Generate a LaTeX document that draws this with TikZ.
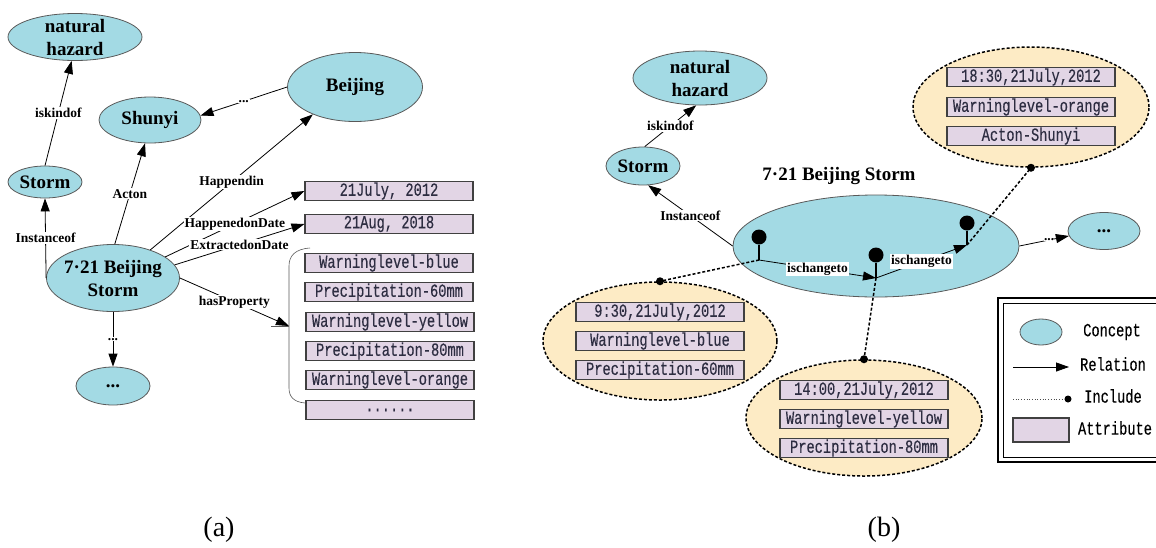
\documentclass[tikz,border=0pt]{standalone}
\usepackage{fontspec}
\setmainfont{Liberation Serif}
\newfontfamily\boxfont[FakeStretch=0.74,FakeBold=0.3]{Liberation Mono}
\usetikzlibrary{shapes.geometric,arrows.meta}
\definecolor{conceptc}{RGB}{163,218,228}
\definecolor{attrc}{RGB}{226,213,229}
\definecolor{inclc}{RGB}{253,235,197}
\definecolor{boxtext}{RGB}{45,45,65}
\begin{document}
\begin{tikzpicture}[x=1pt,y=-1pt,
 concept/.style={ellipse,draw=black!65,line width=0.8pt,fill=conceptc,inner sep=0pt},
 ctext/.style={font=\fontsize{19}{23}\selectfont\bfseries,align=center,inner sep=0pt},
 attrbox/.style={draw=black!75,line width=1.1pt,fill=attrc,minimum width=168pt,minimum height=19pt,inner sep=0pt,font=\fontsize{18.5}{19}\selectfont\boxfont,text=boxtext},
 rel/.style={draw=black,line width=0.8pt,-{Triangle[length=13pt,width=9pt]}},
 lbl/.style={fill=white,inner sep=1pt,font=\fontsize{13.5}{14}\selectfont\bfseries},
 inclell/.style={ellipse,draw=black,line width=1.5pt,dash pattern=on 3pt off 2pt,fill=inclc,inner sep=0pt},
 incline/.style={draw=black,line width=1.5pt,dash pattern=on 3pt off 2pt},
 dotmark/.style={circle,fill=black,inner sep=0pt,minimum size=8pt},
 pinhead/.style={circle,fill=black,inner sep=0pt,minimum size=15pt},
 legtext/.style={font=\fontsize{18.5}{19}\selectfont\boxfont,inner sep=0pt},
 caption/.style={font=\fontsize{28}{30}\selectfont,inner sep=0pt}
]
\useasboundingbox (0,0) rectangle (1156,547);

% ---------------- (a) ----------------
\node[concept,minimum width=134pt,minimum height=47pt,label={[ctext]center:{natural\\hazard}}] (nha) at (75,37) {};
\node[concept,minimum width=74pt,minimum height=32pt,label={[ctext]center:Storm}] (storma) at (45,182) {};
\node[concept,minimum width=102pt,minimum height=46pt,label={[ctext]center:Shunyi}] (shunyi) at (150,120) {};
\node[concept,minimum width=135pt,minimum height=69pt,label={[ctext]center:Beijing}] (beijing) at (355,87) {};
\node[concept,minimum width=133pt,minimum height=67pt,label={[ctext]center:{7·21 Beijing\\Storm}}] (n721a) at (113,278) {};
\node[concept,minimum width=74pt,minimum height=38pt,label={[ctext]center:...}] (dotsa) at (113,386) {};

\node[attrbox] (b1) at (389,191) {21July, 2012};
\node[attrbox] (b2) at (389,224) {21Aug, 2018};
\node[attrbox] (b3) at (389,263) {Warninglevel-blue};
\node[attrbox] (b4) at (389,292) {Precipitation-60mm};
\node[attrbox] (b5) at (390,322) {Warninglevel-yellow};
\node[attrbox] (b6) at (390,351) {Precipitation-80mm};
\node[attrbox] (b7) at (390,380) {Warninglevel-orange};
\node[attrbox] (b8) at (390,410) {......};

\draw[line width=0.6pt,black!65] (310,248) .. controls (295,249) and (289,256) .. (289,266) -- (289,388) .. controls (289,397) and (294,402) .. (305,403);
\coordinate (brace) at (289,326);
\coordinate (bracetail) at (271,326);
\draw[line width=0.6pt,black!65] (bracetail) -- (brace);

\draw[rel] (storma.north) -- node[lbl]{iskindof} (nha.262);
\draw[rel] (n721a.west) -- node[lbl]{Instanceof} (storma.south);
\draw[rel] (n721a.87) -- node[lbl]{Acton} (shunyi.258);
\draw[rel] (beijing.west) -- node[lbl]{...} (shunyi.5);
\draw[rel] (n721a.37) -- node[lbl]{Happendin} (beijing.213);
\draw[rel] (n721a.22) -- node[lbl]{HappenedonDate} (b1.west);
\draw[rel] (n721a.12) -- node[lbl]{ExtractedonDate} (b2.west);
\draw[rel] (n721a.east) -- node[lbl]{hasProperty} (brace);
\draw[rel] (n721a.south) -- node[lbl]{...} (dotsa.north);

\node[caption] (capa) at (219,530) {(a)};

% ---------------- (b) ----------------
\node[concept,minimum width=134pt,minimum height=54pt,label={[ctext]center:{natural\\hazard}}] (nhb) at (700,78) {};
\node[concept,minimum width=74pt,minimum height=38pt,label={[ctext]center:Storm}] (stormb) at (643,166) {};
\node[concept,minimum width=286pt,minimum height=102pt] (big) at (876,246) {};
\node[ctext] (bigtitle) at (839,176) {7·21 Beijing Storm};
\node[concept,minimum width=72pt,minimum height=37pt,label={[ctext]center:...}] (dotsb) at (1104,231) {};

\node[inclell,minimum width=234pt,minimum height=118pt] (inc1) at (660,341) {};
\node[inclell,minimum width=236pt,minimum height=116pt] (inc2) at (864,418) {};
\node[inclell,minimum width=236pt,minimum height=120pt] (inc3) at (1031,107) {};

\node[attrbox] (c1) at (660,312) {9:30,21July,2012};
\node[attrbox] (c2) at (660,341) {Warninglevel-blue};
\node[attrbox] (c3) at (660,370) {Precipitation-60mm};
\node[attrbox] (d1) at (864,390) {14:00,21July,2012};
\node[attrbox] (d2) at (864,419) {Warninglevel-yellow};
\node[attrbox] (d3) at (864,448) {Precipitation-80mm};
\node[attrbox] (e1) at (1031,77) {18:30,21July,2012};
\node[attrbox] (e2) at (1031,107) {Warninglevel-orange};
\node[attrbox] (e3) at (1031,136) {Acton-Shunyi};

\draw[rel] (stormb.85) -- node[lbl]{iskindof} (nhb.262);
\draw[rel] (big.west) -- node[lbl]{Instanceof} (stormb.285);
\draw[rel] (big.east) -- node[lbl,pos=0.6,inner sep=0pt]{...} (dotsb.188);

\coordinate (p1) at (759,260);
\coordinate (p2) at (876,278);
\coordinate (p3) at (967,245);
\node[pinhead] (h1) at (759,237) {};
\node[pinhead] (h2) at (876,255) {};
\node[pinhead] (h3) at (967,223) {};
\draw[line width=1.4pt] (h1) -- (p1);
\draw[line width=1.4pt] (h2) -- (p2);
\draw[line width=1.4pt] (h3) -- (p3);

\draw[incline] (p1) -- (inc1.north);
\draw[incline] (p2) -- (inc2.north);
\draw[incline] (p3) -- (inc3.south);
\node[dotmark] (m1) at (inc1.north) {};
\node[dotmark] (m2) at (inc2.north) {};
\node[dotmark] (m3) at (inc3.south) {};

\draw[rel] (p1) -- node[lbl]{ischangeto} (p2);
\draw[rel] (p2) -- node[lbl]{ischangeto} (p3);

% legend
\draw[line width=1.6pt] (998,298) rectangle (1175,462);
\draw[line width=0.8pt] (1003,303) rectangle (1175,457);
\node[concept,minimum width=42pt,minimum height=26pt] (lgc) at (1041,332) {};
\node[legtext] (lgct) at (1112,332) {Concept};
\coordinate (lr1) at (1013,367);
\coordinate (lr2) at (1069,367);
\draw[rel] (lr1) -- (lr2);
\node[legtext] (lgrt) at (1113,364) {Relation};
\coordinate (li1) at (1013,399);
\node[circle,fill=black,inner sep=0pt,minimum size=7pt] (li2) at (1068,399) {};
\draw[line width=0.7pt,black!70,dotted] (li1) -- (li2);
\node[legtext] (lgit) at (1113,396) {Include};
\node[draw=black!75,line width=1.1pt,fill=attrc,minimum width=56pt,minimum height=24pt,inner sep=0pt] (lga) at (1041,430) {};
\node[legtext] (lgat) at (1115,428) {Attribute};

\node[caption] (capb) at (884,530) {(b)};
\end{tikzpicture}
\end{document}
